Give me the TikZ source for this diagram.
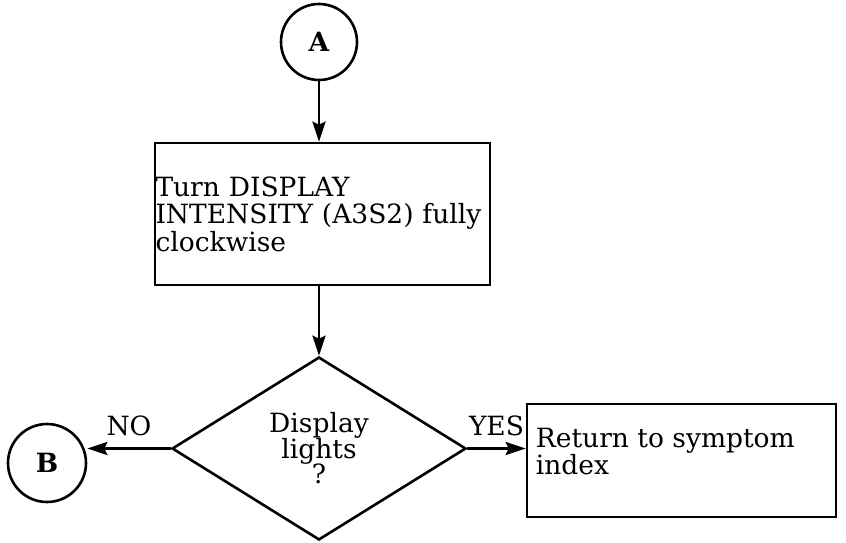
\documentclass[tikz,border=0pt]{standalone}
\usepackage{fontspec}
\setmainfont{DejaVu Serif}
\usepackage{tikz}
\usetikzlibrary{shapes,shapes.geometric,arrows.meta,positioning,calc}

\tikzset{
  conn/.style={draw, circle, line width=2.6pt, minimum size=76pt, inner sep=0pt},
  stepbox/.style={draw, line width=2.6pt, align=left, inner xsep=0.5pt},
  decide/.style={draw, diamond, line width=2.6pt, align=center, inner sep=0pt},
  flow/.style={line width=2.8pt, -{Stealth[length=20pt,width=13pt,inset=3pt]}}
}

\begin{document}
\begin{tikzpicture}[x=1pt, y=-1pt, font=\fontsize{26.5}{27.5}\selectfont]
  \useasboundingbox (0,0) rectangle (846,542);
  \node[conn] (conA) at (319,42) {\textbf{A}};
  \node[stepbox, text width=334pt, minimum height=142pt] (turn) at (322.5,214)
    {Turn DISPLAY\\INTENSITY (A3S2) fully\\clockwise};
  \node[decide, minimum width=294pt, minimum height=183pt] (lights) at (319,448.5)
    {Display\\[-2pt]lights\\[-2pt]?};
  \node[stepbox, minimum width=309pt, minimum height=113pt] (back) at (681.5,460.5) {};
  \node[align=left, anchor=west, inner sep=0pt] (backtext) at ($(back.west)+(10,-9)$)
    {Return to symptom\\index};
  \node[conn, minimum size=78pt] (conB) at (47,463) {\textbf{B}};

  \draw[flow] (conA.south) -- (conA.south |- turn.north);
  \draw[flow] (turn.south -| lights.north) -- (lights.north);
  \draw[flow] (lights.west) -- (lights.west -| conB.east) node[midway, above=8pt] {NO};
  \draw[flow] (lights.east) -- (lights.east -| back.west) node[midway, above=8pt] {YES};
\end{tikzpicture}
\end{document}
